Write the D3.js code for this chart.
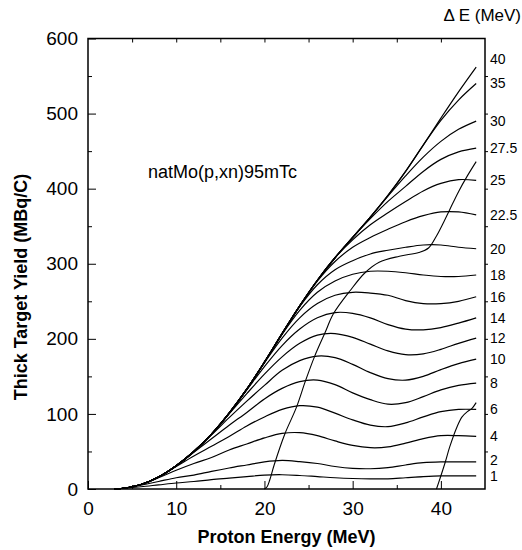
<!DOCTYPE html>
<html>
<head>
<meta charset="utf-8">
<script src="https://cdn.jsdelivr.net/npm/d3@7"></script>
<style>
  body { margin: 0; background: #fff; }
  text { font-family: "Liberation Sans", Arial, Helvetica, sans-serif; fill: #000; }
</style>
</head>
<body>
<script>
// Proton energy grid (MeV) shared by the Delta E curves
const energy = [3, 4, 6, 8, 10, 12, 14, 16, 18, 20, 22, 24, 26, 28, 30, 32, 34, 36, 38, 40, 42, 44];

// Thick target yield (MBq/C) for each energy window Delta E
const dE40  = [0, 1, 6, 16, 31, 50, 73, 101, 133, 169, 207, 244, 278, 308, 335, 362, 391, 423, 458, 494, 529, 562];
const dE35  = [0, 1, 6, 16, 31, 50, 73, 101, 133, 169, 207, 244, 278, 308, 335, 362, 391, 423, 458, 491, 518, 540];
const dE30  = [0, 1, 6, 16, 31, 50, 73, 101, 133, 169, 207, 244, 278, 308, 335, 362, 390, 417, 442, 463, 479, 490];
const dE275 = [0, 1, 6, 16, 31, 50, 73, 101, 133, 169, 207, 244, 278, 308, 335, 360, 383, 403, 423, 439, 449, 454];
const dE25  = [0, 1, 6, 16, 31, 50, 73, 101, 133, 169, 207, 244, 278, 308, 332, 352, 368, 383, 397, 407, 412, 411];
const dE225 = [0, 1, 6, 16, 31, 50, 73, 101, 133, 169, 207, 244, 277, 303, 322, 335, 346, 356, 364, 369, 369, 365];
const dE20  = [0, 1, 6, 16, 31, 50, 73, 101, 133, 169, 207, 243, 272, 292, 304, 313, 318, 322, 325, 325, 322, 320];
const dE18  = [0, 1, 6, 16, 31, 50, 73, 101, 133, 169, 206, 238, 262, 277, 286, 290, 290, 288, 285, 283, 283, 285];
const dE16  = [0, 1, 6, 16, 31, 50, 73, 101, 133, 168, 201, 228, 247, 258, 262, 261, 258, 251, 247, 247, 250, 256];
const dE14  = [0, 1, 6, 16, 31, 50, 73, 101, 132, 163, 191, 213, 228, 235, 234, 228, 219, 213, 212, 215, 221, 228];
const dE12  = [0, 1, 6, 16, 31, 50, 73, 100, 127, 153, 176, 194, 205, 207, 202, 193, 184, 179, 180, 186, 194, 201];
const dE10  = [0, 1, 6, 16, 31, 50, 72, 95, 117, 138, 158, 171, 177, 175, 166, 155, 147, 145, 150, 159, 167, 173];
const dE8   = [0, 1, 6, 16, 31, 49, 67, 85, 102, 120, 134, 143, 145, 139, 128, 119, 113, 115, 123, 132, 138, 141];
const dE6   = [0, 1, 6, 16, 30, 44, 57, 70, 84, 96, 106, 111, 109, 101, 92, 85, 83, 88, 96, 103, 106, 106];
const dE4   = [0, 1, 6, 15, 25, 34, 42, 52, 60, 68, 74, 75, 71, 64, 58, 55, 56, 61, 67, 71, 71, 70];
const dE2   = [0, 1, 5, 10, 15, 18.5, 23.5, 28, 32, 36, 38, 36.5, 34, 30, 27.5, 27, 28.5, 32, 35, 36, 36, 36];
const dE1   = [0, 1, 3, 5.5, 8, 10, 12.5, 14.5, 16.5, 18.5, 19, 18, 16.5, 15, 14, 13.5, 13.5, 15, 16.5, 17.5, 17.5, 17.5];

const windowLabels = ["40", "35", "30", "27.5", "25", "22.5", "20", "18", "16", "14", "12", "10", "8", "6", "4", "2", "1"];
const windowSeries = [dE40, dE35, dE30, dE275, dE25, dE225, dE20, dE18, dE16, dE14, dE12, dE10, dE8, dE6, dE4, dE2, dE1];

// The two crossing curves
const crossA_E = [20, 20.3, 20.6, 21.1, 22.3, 23.6, 24.65, 25.7, 26.9, 27.8, 29.7, 31.4, 33, 35.3, 37.5, 38.6, 39.5, 40.3, 41, 42, 43, 44];
const crossA_Y = [0, 3, 12, 32, 73, 108, 144, 177, 209, 233, 264, 288, 302, 310, 315, 321, 337, 355, 372, 396, 417, 436];
const crossB_E = [39.5, 39.9, 40.5, 41, 41.8, 42.4, 43, 43.5, 44];
const crossB_Y = [0, 14, 36, 56, 82, 96, 103, 107, 115];

const xTicks = [0, 10, 20, 30, 40];
const yTicks = [0, 100, 200, 300, 400, 500, 600];

// Layout
const W = 522, H = 550;
const margin = { top: 38.5, right: 37, bottom: 61, left: 88 };
const width = W - margin.left - margin.right;
const height = H - margin.top - margin.bottom;

const svg = d3.select("body").append("svg")
    .attr("width", W)
    .attr("height", H);

const g = svg.append("g")
    .attr("transform", `translate(${margin.left}, ${margin.top})`);

const x = d3.scaleLinear().domain([0, 45]).range([0, width]);
const y = d3.scaleLinear().domain([0, 600]).range([height, 0]);

// Axes: ticks point inward
const minorX = d3.range(5, 45, 10);
const minorY = d3.range(50, 600, 100);

g.append("g")
    .attr("class", "axis")
    .attr("transform", `translate(0, ${height})`)
    .call(d3.axisBottom(x).tickValues(xTicks).tickSize(-8).tickPadding(13).tickFormat(d3.format("d")));
g.append("g")
    .attr("class", "axis minor")
    .attr("transform", `translate(0, ${height})`)
    .call(d3.axisBottom(x).tickValues(minorX).tickSize(-4).tickFormat(""));
g.append("g")
    .attr("class", "axis")
    .call(d3.axisLeft(y).tickValues(yTicks).tickSize(-8).tickPadding(10).tickFormat(d3.format("d")));
g.append("g")
    .attr("class", "axis minor")
    .call(d3.axisLeft(y).tickValues(minorY).tickSize(-4).tickFormat(""));
g.append("g")
    .attr("class", "axis minor")
    .call(d3.axisTop(x).tickValues(d3.range(5, 45, 5)).tickSize(-4).tickFormat(""));
g.append("g")
    .attr("class", "axis minor")
    .attr("transform", `translate(${width}, 0)`)
    .call(d3.axisRight(y).tickValues(d3.range(50, 600, 50)).tickSize(3).tickFormat(""));

g.selectAll(".axis .domain").remove();
g.selectAll(".axis line").attr("stroke", "#000").attr("stroke-width", 1);
g.selectAll(".axis text").style("font-size", "19px").attr("fill", "#000");

// Frame
g.append("rect")
    .attr("width", width)
    .attr("height", height)
    .attr("fill", "none")
    .attr("stroke", "#000")
    .attr("stroke-width", 1.5);

// Curves
const line = d3.line()
    .x(d => x(d[0]))
    .y(d => y(d[1]))
    .curve(d3.curveCatmullRom.alpha(0.5));

windowSeries.forEach(vals => {
    g.append("path")
        .datum(energy.map((e, i) => [e, vals[i]]))
        .attr("fill", "none")
        .attr("stroke", "#000")
        .attr("stroke-width", 1.2)
        .attr("d", line);
});

[[crossA_E, crossA_Y], [crossB_E, crossB_Y]].forEach(([es, ys]) => {
    g.append("path")
        .datum(es.map((e, i) => [e, ys[i]]))
        .attr("fill", "none")
        .attr("stroke", "#000")
        .attr("stroke-width", 1.1)
        .attr("d", line);
});

// Right-hand Delta E labels at the curve ends, nudged apart
const labelY = windowSeries.map(v => y(v[v.length - 1]));
for (let i = labelY.length - 2; i >= 0; i--) {
    if (labelY[i] > labelY[i + 1] - 16) labelY[i] = labelY[i + 1] - 16;
}
labelY[0] -= 8;
g.selectAll(".dlabel")
    .data(windowLabels)
    .join("text")
    .attr("class", "dlabel")
    .attr("x", width + 5)
    .attr("y", (d, i) => labelY[i])
    .attr("dy", "0.35em")
    .style("font-size", "14px")
    .text(d => d);

svg.append("text")
    .attr("x", 521)
    .attr("y", 21)
    .attr("text-anchor", "end")
    .style("font-size", "17px")
    .text("\u0394 E (MeV)");

// Reaction annotation
g.append("text")
    .attr("x", x(6.8))
    .attr("y", y(414))
    .style("font-size", "18px")
    .text("natMo(p,xn)95mTc");

// Axis titles
svg.append("text")
    .attr("x", margin.left + width / 2)
    .attr("y", 543)
    .attr("text-anchor", "middle")
    .style("font-size", "18px")
    .style("font-weight", "bold")
    .text("Proton Energy (MeV)");

svg.append("text")
    .attr("transform", `translate(27, 287) rotate(-90)`)
    .attr("text-anchor", "middle")
    .style("font-size", "18px")
    .style("font-weight", "bold")
    .text("Thick Target Yield (MBq/C)");
</script>
</body>
</html>
